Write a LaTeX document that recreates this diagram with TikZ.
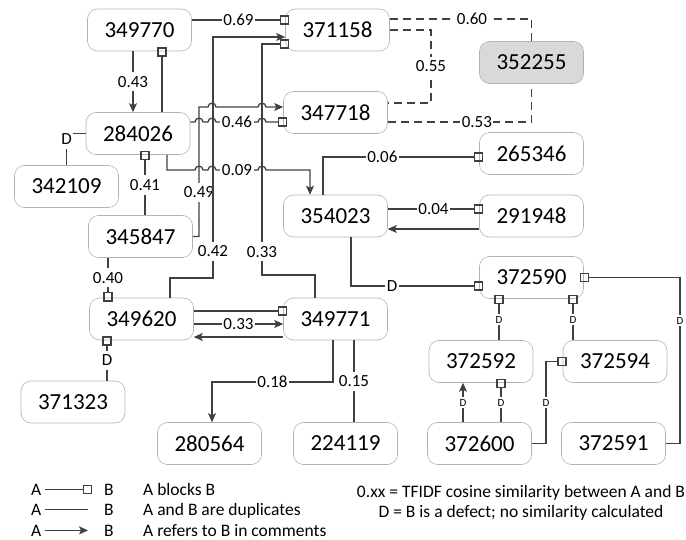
\documentclass[tikz,border=0pt]{standalone}
\usepackage{fontspec}
\setmainfont{Carlito}
\usetikzlibrary{arrows.meta}

% small bump where a horizontal line jumps over a vertical one
\newcommand{\hop}[2]{-- ({#1-4},#2) .. controls ({#1-4},{#2-5}) and ({#1+4},{#2-5}) .. ({#1+4},#2)}

\begin{document}
\begin{tikzpicture}[x=1pt, y=-1pt]
  % Define styles
  \tikzstyle{issue} = [rectangle, draw=black!30, line width=0.6pt, rounded corners=10pt, minimum width=104pt, minimum height=42pt, inner sep=0pt, font=\fontsize{23}{26}\selectfont]
  \tikzstyle{link} = [draw=black!75, line width=1.3pt]
  \tikzstyle{blocks} = [link, -{Square[open, length=9.5pt, width=9.5pt]}, shorten >=-4pt]
  \tikzstyle{refers} = [link, -{Stealth[length=9pt, width=8pt, inset=2pt]}]
  \tikzstyle{dupl} = [link]
  \tikzstyle{similar} = [link, dash pattern=on 8pt off 5pt]
  \tikzstyle{lbl} = [fill=white, inner xsep=1.5pt, inner ysep=4pt, font=\fontsize{17}{19}\selectfont]
  \tikzstyle{tlbl} = [fill=white, inner xsep=1pt, inner ysep=2pt, font=\fontsize{11}{12}\selectfont]
  \tikzstyle{legtext} = [inner sep=0pt, font=\fontsize{17.5}{20}\selectfont]

  \useasboundingbox (0,0) rectangle (686,540);

  % Upper left cluster
  \node[issue] (b349770) at (139.5,30) {349770};
  \node[issue] (b284026) at (138,133.5) {284026};
  \node[issue] (b342109) at (66.5,186.5) {342109};
  \node[issue] (b345847) at (140.5,236.5) {345847};

  % Issues similar to 352255
  \node[issue] (b371158) at (337.5,30) {371158};
  \node[issue] (b347718) at (335.5,112.5) {347718};
  \node[issue, fill=black!15] (b352255) at (531.5,62.5) {352255};

  % Middle right
  \node[issue] (b265346) at (531.5,153.5) {265346};
  \node[issue] (b354023) at (335.5,216) {354023};
  \node[issue] (b291948) at (531.5,216) {291948};
  \node[issue] (b372590) at (531.5,277.5) {372590};

  % Lower left cluster
  \node[issue] (b349620) at (141.5,319) {349620};
  \node[issue] (b349771) at (335.5,319) {349771};
  \node[issue] (b371323) at (73,402) {371323};
  \node[issue] (b280564) at (209.5,443.5) {280564};
  \node[issue] (b224119) at (345.5,443.5) {224119};

  % Defects below 372590
  \node[issue] (b372592) at (481,361.5) {372592};
  \node[issue] (b372594) at (615,361.5) {372594};
  \node[issue] (b372600) at (479.5,443.5) {372600};
  \node[issue] (b372591) at (613.5,443.5) {372591};

  % Similarity links (dashed)
  \draw[similar] (b371158.east |- 0,19) -| node[lbl, pos=0.29] {0.60} (b352255.north);
  \draw[similar] (b371158.east) -- (431,30) -- node[lbl] {0.55} (431,103) -- (b347718.east |- 0,103);
  \draw[similar] (b347718.east |- 0,122) -| node[lbl, pos=0.31] {0.53} (b352255.south);

  % Upper left links
  \draw[blocks] (b349770.east |- 0,20) -- node[lbl] {0.69} (b371158.west |- 0,20);
  \draw[refers] (133,0 |- b349770.south) -- node[lbl] {0.43} (133,0 |- b284026.north);
  \draw[blocks] (162,0 |- b284026.north) -- (162,0 |- b349770.south);
  \draw[dupl] (b284026.west) -| node[lbl, pos=0.59] {D} (b342109.north);
  \draw[blocks] (145,0 |- b345847.north) -- node[lbl] {0.41} (145,0 |- b284026.south);
  \draw[refers] (b345847.east) -| node[lbl, pos=0.67] {0.49} (199,107) \hop{212}{107} \hop{262}{107} -- (b347718.west |- 0,107);
  \draw[blocks] (b284026.east |- 0,122) \hop{199}{122} \hop{212}{122} -- node[lbl] {0.46} (258,122) \hop{262}{122} -- (b347718.west |- 0,122);
  \draw[refers] (167,0 |- b284026.south) -- (167,170) \hop{199}{170} \hop{212}{170} -- node[lbl] {0.09} (258,170) \hop{262}{170} -| (310,0 |- b354023.north);

  % Long links up to 371158
  \draw[refers] (170,0 |- b349620.north) |- (213,278) -- node[lbl, pos=0.11] {0.42} (213,37) -- (b371158.west |- 0,37);
  \draw[blocks] (315,0 |- b349771.north) |- (262,275) -- node[lbl, pos=0.10] {0.33} (262,44) -- (b371158.west |- 0,44);

  % Links around 354023
  \draw[blocks] (323,0 |- b354023.north) |- node[lbl, pos=0.69] {0.06} (b265346.west |- 0,157);
  \draw[blocks] (b354023.east |- 0,209) -- node[lbl] {0.04} (b291948.west |- 0,209);
  \draw[refers] (b291948.west |- 0,229) -- (b354023.east |- 0,229);
  \draw[blocks] (351,0 |- b354023.south) |- node[lbl, pos=0.66] {D} (b372590.west |- 0,286);

  % Defects of 372590
  \draw[blocks] (499,0 |- b372592.north) -- node[tlbl] {D} (499,0 |- b372590.south);
  \draw[blocks] (573,0 |- b372594.north) -- node[tlbl] {D} (573,0 |- b372590.south);
  \draw[blocks] (b372591.east) -| node[tlbl, pos=0.87] {D} (680,0 |- b372590.east) -- (b372590.east);
  \draw[refers] (463,0 |- b372600.north) -- node[tlbl] {D} (463,0 |- b372592.south);
  \draw[blocks] (501,0 |- b372600.north) -- node[tlbl] {D} (501,0 |- b372592.south);
  \draw[blocks] (b372600.east) -| node[tlbl, pos=0.75] {D} (546,0 |- b372594.west) -- (b372594.west);

  % Lower left links
  \draw[blocks] (108,0 |- b345847.south) -- node[lbl] {0.40} (108,0 |- b349620.north);
  \draw[blocks] (b349620.east |- 0,311) -- (b349771.west |- 0,311);
  \draw[refers] (b349620.east |- 0,324) -- node[lbl] {0.33} (b349771.west |- 0,324);
  \draw[refers] (b349771.west |- 0,337) -- (b349620.east |- 0,337);
  \draw[blocks] (107,0 |- b371323.north) -- node[lbl] {D} (107,0 |- b349620.south);
  \draw[refers] (333,0 |- b349771.south) |- node[lbl, pos=0.75] {0.18} (212,382) -- (212,0 |- b280564.north);
  \draw[dupl] (354,0 |- b349771.south) -- node[lbl] {0.15} (354,0 |- b224119.north);

  % Legend
  \node[legtext, anchor=base west] (keyA1) at (31,495) {A};
  \node[legtext, anchor=base west] (keyB1) at (104,495) {B};
  \node[legtext, anchor=base west] (keyT1) at (143,495) {A blocks B};
  \node[legtext, anchor=base west] (keyA2) at (31,515) {A};
  \node[legtext, anchor=base west] (keyB2) at (104,515) {B};
  \node[legtext, anchor=base west] (keyT2) at (143,515) {A and B are duplicates};
  \node[legtext, anchor=base west] (keyA3) at (31,536) {A};
  \node[legtext, anchor=base west] (keyB3) at (104,536) {B};
  \node[legtext, anchor=base west] (keyT3) at (143,536) {A refers to B in comments};
  \draw[blocks, shorten <=3pt, shorten >=12pt] (keyA1.east) -- (keyB1.west);
  \draw[dupl, shorten <=3pt, shorten >=16pt] (keyA2.east) -- (keyB2.west);
  \draw[refers, shorten <=3pt, shorten >=16pt] (keyA3.east) -- (keyB3.west);

  \node[legtext, anchor=base] (note1) at (521,497) {0.xx = TFIDF cosine similarity between A and B};
  \node[legtext, anchor=base] (note2) at (521,517) {D = B is a defect; no similarity calculated};
\end{tikzpicture}
\end{document}
